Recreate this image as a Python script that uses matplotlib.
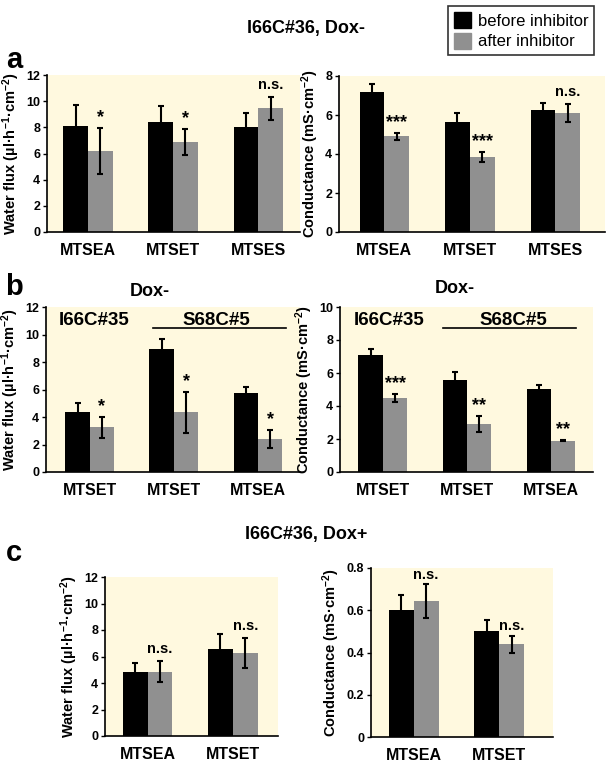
import matplotlib
matplotlib.use("Agg")
import matplotlib.pyplot as plt
import matplotlib.patches as mpatches
import numpy as np

plt.rcParams["font.family"] = ["Liberation Sans", "DejaVu Sans"]
plt.rcParams["mathtext.default"] = "regular"

BG = "#fff9df"
GREY = "#909090"

# panel a
a_groups = ["MTSEA", "MTSET", "MTSES"]
a_flux_before = [8.1, 8.4, 8.05]
a_flux_before_err = [1.6, 1.2, 1.05]
a_flux_after = [6.2, 6.9, 9.45]
a_flux_after_err = [1.75, 1.0, 0.9]
a_flux_sig = ["*", "*", "n.s."]

a_cond_before = [7.2, 5.65, 6.25]
a_cond_before_err = [0.4, 0.45, 0.35]
a_cond_after = [4.9, 3.85, 6.1]
a_cond_after_err = [0.2, 0.25, 0.45]
a_cond_sig = ["***", "***", "n.s."]

# panel b
b_groups = ["MTSET", "MTSET", "MTSEA"]
b_flux_before = [4.4, 8.95, 5.75]
b_flux_before_err = [0.6, 0.75, 0.45]
b_flux_after = [3.25, 4.35, 2.4]
b_flux_after_err = [0.75, 1.5, 0.62]
b_flux_sig = ["*", "*", "*"]

b_cond_before = [7.1, 5.6, 5.05]
b_cond_before_err = [0.35, 0.45, 0.25]
b_cond_after = [4.5, 2.9, 1.9]
b_cond_after_err = [0.25, 0.5, 0.04]
b_cond_sig = ["***", "**", "**"]

# panel c
c_groups = ["MTSEA", "MTSET"]
c_flux_before = [4.85, 6.6]
c_flux_before_err = [0.65, 1.1]
c_flux_after = [4.85, 6.25]
c_flux_after_err = [0.8, 1.15]
c_flux_sig = ["n.s.", "n.s."]

c_cond_before = [0.60, 0.50]
c_cond_before_err = [0.07, 0.055]
c_cond_after = [0.645, 0.44]
c_cond_after_err = [0.08, 0.04]
c_cond_sig = ["n.s.", "n.s."]

W, H = 612, 766
fig = plt.figure(figsize=(W / 100, H / 100), dpi=100)


def add_ax(x0, y0, x1, y1):
    return fig.add_axes([x0 / W, (H - y1) / H, (x1 - x0) / W, (y1 - y0) / H])


FLUX_LABEL = "Water flux (µl·h$^{-1}$·cm$^{-2}$)"
COND_LABEL = "Conductance (mS·cm$^{-2}$)"


def bar_panel(ax, groups, before, before_err, after, after_err, sig,
              ymax, yticks, ylabel, xlim, sig_pad):
    x = np.arange(len(groups))
    w = 0.29
    ax.set_facecolor(BG)
    ax.bar(x - w / 2, before, w, color="black", zorder=2)
    ax.bar(x + w / 2, after, w, color=GREY, zorder=2)
    ax.errorbar(x - w / 2, before, yerr=before_err, fmt="none", ecolor="black",
                elinewidth=1.5, capsize=2.2, capthick=1.5, zorder=3)
    ax.errorbar(x + w / 2, after, yerr=after_err, fmt="none", ecolor="black",
                elinewidth=1.5, capsize=2.2, capthick=1.5, zorder=3)
    for i, s in enumerate(sig):
        top = after[i] + after_err[i]
        if s == "n.s.":
            ax.text(x[i] + w / 2, top + sig_pad, s, ha="center", va="bottom",
                    fontsize=10.5, fontweight="bold")
        else:
            ax.text(x[i] + w / 2, top + sig_pad * 0.4, s, ha="center",
                    va="bottom", fontsize=13, fontweight="bold")
    ax.set_xlim(*xlim)
    ax.set_ylim(0, ymax)
    ax.set_yticks(yticks)
    ax.set_yticklabels([("%g" % t) for t in yticks], fontsize=9,
                       fontweight="bold")
    ax.set_xticks(x)
    ax.set_xticklabels(groups, fontsize=11.5, fontweight="bold")
    ax.tick_params(axis="x", length=0, pad=8)
    ax.tick_params(axis="y", length=3, width=1, pad=2)
    ax.set_ylabel(ylabel, fontsize=10.5, fontweight="bold", labelpad=3)
    for sp in ["top", "right"]:
        ax.spines[sp].set_visible(False)
    for sp in ["left", "bottom"]:
        ax.spines[sp].set_linewidth(1.2)


# row a
ax = add_ax(47, 75, 300, 232)
bar_panel(ax, a_groups, a_flux_before, a_flux_before_err, a_flux_after,
          a_flux_after_err, a_flux_sig, 12, [0, 2, 4, 6, 8, 10, 12],
          FLUX_LABEL, (-0.48, 2.49), 0.35)
ax = add_ax(339, 76, 605, 232)
bar_panel(ax, a_groups, a_cond_before, a_cond_before_err, a_cond_after,
          a_cond_after_err, a_cond_sig, 8, [0, 2, 4, 6, 8],
          COND_LABEL, (-0.53, 2.58), 0.25)

# row b
ax = add_ax(46, 307, 300, 472)
bar_panel(ax, b_groups, b_flux_before, b_flux_before_err, b_flux_after,
          b_flux_after_err, b_flux_sig, 12, [0, 2, 4, 6, 8, 10, 12],
          FLUX_LABEL, (-0.52, 2.5), 0.35)
ax.text(0.05, 11.05, "I66C#35", ha="center", va="center", fontsize=13.5,
        fontweight="bold")
ax.text(1.5, 11.05, "S68C#5", ha="center", va="center", fontsize=13.5,
        fontweight="bold")
ax.plot([0.75, 2.33], [10.5, 10.5], color="black", lw=1.2)

ax = add_ax(340, 307, 593, 472)
bar_panel(ax, b_groups, b_cond_before, b_cond_before_err, b_cond_after,
          b_cond_after_err, b_cond_sig, 10, [0, 2, 4, 6, 8, 10],
          COND_LABEL, (-0.51, 2.5), 0.3)
ax.text(0.07, 9.2, "I66C#35", ha="center", va="center", fontsize=13.5,
        fontweight="bold")
ax.text(1.55, 9.2, "S68C#5", ha="center", va="center", fontsize=13.5,
        fontweight="bold")
ax.plot([0.72, 2.3], [8.7, 8.7], color="black", lw=1.2)

# row c
ax = add_ax(105, 577, 278, 736)
bar_panel(ax, c_groups, c_flux_before, c_flux_before_err, c_flux_after,
          c_flux_after_err, c_flux_sig, 12, [0, 2, 4, 6, 8, 10, 12],
          FLUX_LABEL, (-0.5, 1.53), 0.4)
ax = add_ax(371, 568, 553, 737)
bar_panel(ax, c_groups, c_cond_before, c_cond_before_err, c_cond_after,
          c_cond_after_err, c_cond_sig, 0.8, [0, 0.2, 0.4, 0.6, 0.8],
          COND_LABEL, (-0.5, 1.63), 0.01)

# titles and panel letters
fig.text(306 / W, 1 - 28 / H, "I66C#36, Dox-", ha="center", va="center",
         fontsize=13, fontweight="bold")
fig.text(150 / W, 1 - 292 / H, "Dox-", ha="center", va="center",
         fontsize=13, fontweight="bold")
fig.text(455 / W, 1 - 289 / H, "Dox-", ha="center", va="center",
         fontsize=13, fontweight="bold")
fig.text(306 / W, 1 - 535 / H, "I66C#36, Dox+", ha="center", va="center",
         fontsize=13, fontweight="bold")
fig.text(14 / W, 1 - 60 / H, "a", ha="center", va="center", fontsize=21,
         fontweight="bold")
fig.text(14 / W, 1 - 287 / H, "b", ha="center", va="center", fontsize=21,
         fontweight="bold")
fig.text(14 / W, 1 - 553 / H, "c", ha="center", va="center", fontsize=21,
         fontweight="bold")

# legend
handles = [mpatches.Patch(color="black", label="before inhibitor"),
           mpatches.Patch(color=GREY, label="after inhibitor")]
leg = fig.legend(handles=handles, loc="upper right",
                 bbox_to_anchor=(594 / W, 1 - 6 / H), fontsize=12,
                 frameon=True, fancybox=False, handlelength=1.0,
                 handleheight=1.1, handletextpad=0.4, labelspacing=0.25,
                 borderpad=0.35, borderaxespad=0)
leg.get_frame().set_edgecolor("black")
leg.get_frame().set_linewidth(1.2)

fig.savefig("out.png", dpi=100)
